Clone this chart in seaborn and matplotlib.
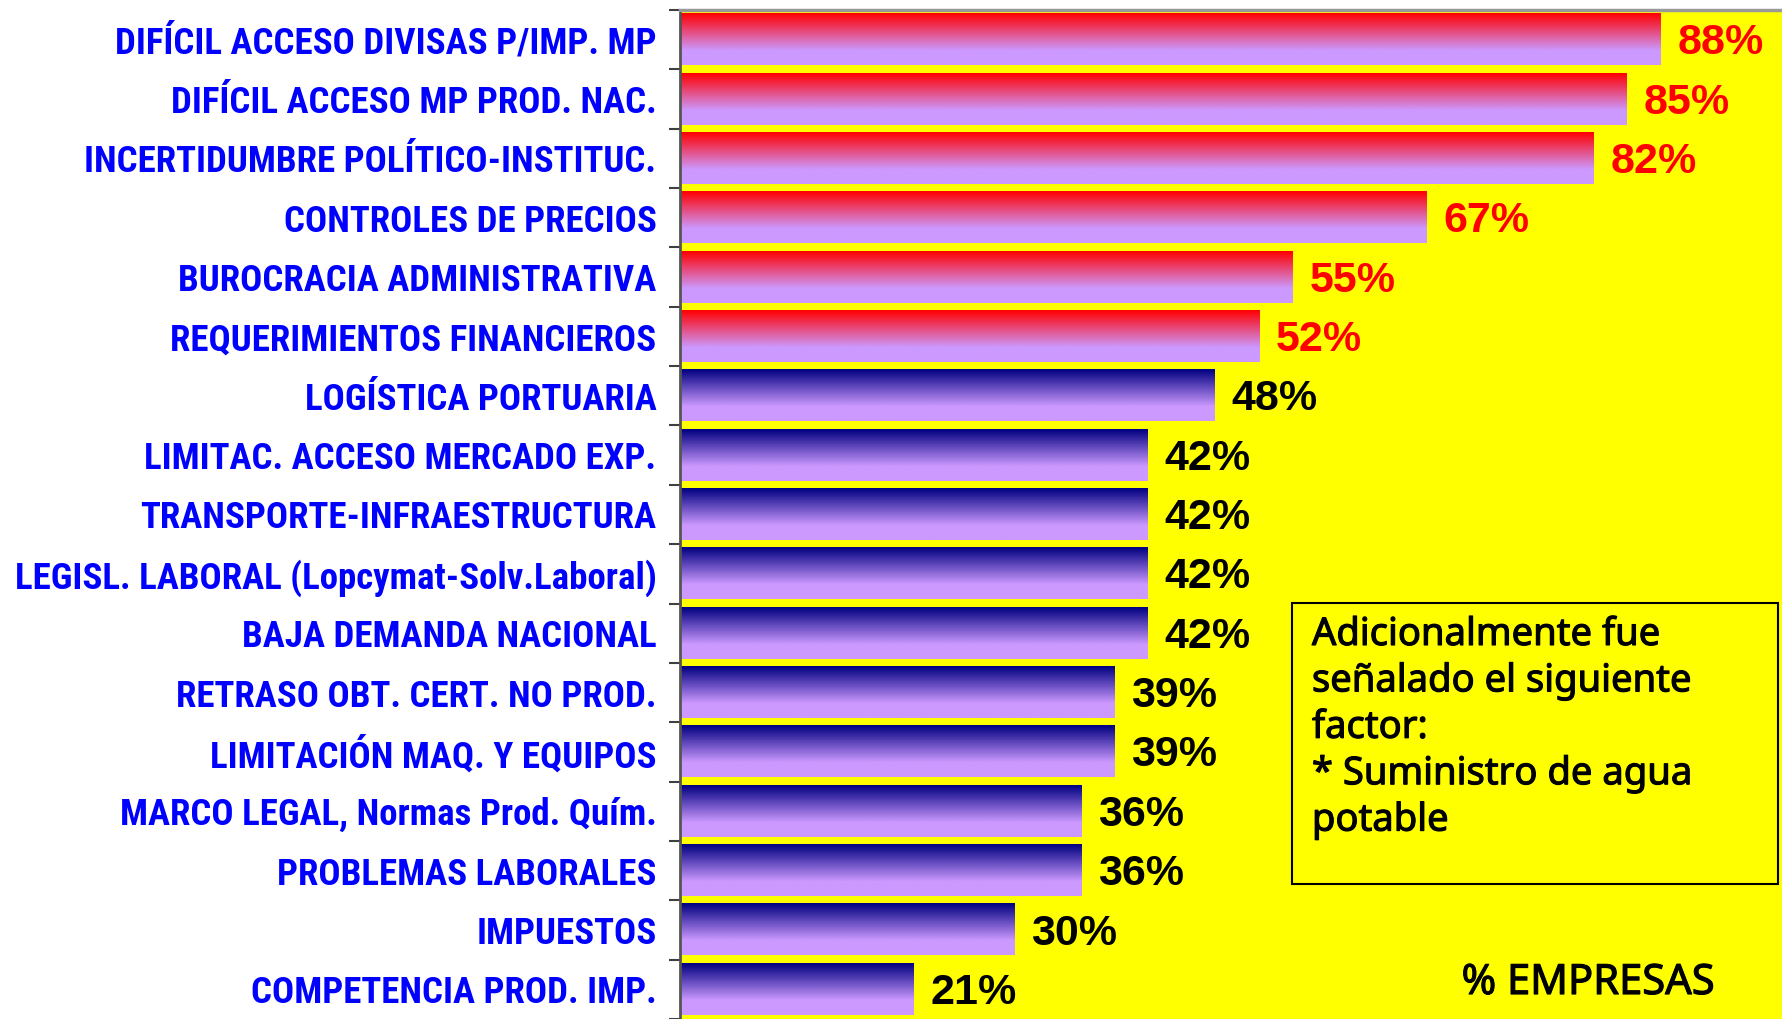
import numpy as np
import pandas as pd
import matplotlib.pyplot as plt
import matplotlib.patheffects as pe
import seaborn as sns
from matplotlib.colors import to_rgb
from matplotlib.patches import Rectangle

factores = [
    "DIFÍCIL ACCESO DIVISAS P/IMP. MP",
    "DIFÍCIL ACCESO MP PROD. NAC.",
    "INCERTIDUMBRE POLÍTICO-INSTITUC.",
    "CONTROLES DE PRECIOS",
    "BUROCRACIA ADMINISTRATIVA",
    "REQUERIMIENTOS FINANCIEROS",
    "LOGÍSTICA PORTUARIA",
    "LIMITAC. ACCESO MERCADO EXP.",
    "TRANSPORTE-INFRAESTRUCTURA",
    "LEGISL. LABORAL (Lopcymat-Solv.Laboral)",
    "BAJA DEMANDA NACIONAL",
    "RETRASO OBT. CERT. NO PROD.",
    "LIMITACIÓN MAQ. Y EQUIPOS",
    "MARCO LEGAL, Normas Prod. Quím.",
    "PROBLEMAS LABORALES",
    "IMPUESTOS",
    "COMPETENCIA PROD. IMP.",
]
porcentajes = [88, 85, 82, 67, 55, 52, 48, 42, 42, 42, 42, 39, 39, 36, 36, 30, 21]
umbral = 50

nota = ("Adicionalmente fue\nseñalado el siguiente\nfactor:\n"
        "* Suministro de agua\npotable")

sns.set_style("white")
plt.rcParams['font.family'] = ['Liberation Sans', 'DejaVu Sans']

df = pd.DataFrame({'factor': factores, 'pct': porcentajes})

fig = plt.figure(figsize=(17.83, 10.19), dpi=100)
ax = fig.add_axes([0.3814, 0.0, 0.6186, 0.9902])
ax.set_facecolor('#FFFF00')
sns.barplot(data=df, x='pct', y='factor', orient='h', width=0.86,
            color='white', errorbar=None, ax=ax)

# degradado vertical en cada barra
lav = np.array(to_rgb('#CC99FF'))
t = np.clip(np.linspace(0, 1, 120) / 0.72, 0, 1)[:, None]
for p, v in zip(ax.patches, porcentajes):
    arriba = np.array(to_rgb('#FF0000' if v > umbral else '#000080'))
    grad = (arriba + (lav - arriba) * t)[:, None, :]
    x0, y0 = p.get_x(), p.get_y()
    w, h = p.get_width(), p.get_height()
    ax.imshow(grad, extent=(x0, x0 + w, y0 + h, y0), aspect='auto',
              interpolation='bilinear', zorder=2)
    p.set_facecolor('none')
    p.set_edgecolor('none')

for i, v in enumerate(porcentajes):
    ax.text(v + 1.5, i + 0.06, f"{v}%", va='center', ha='left', fontsize=31,
            fontweight='bold', family='Liberation Sans',
            color='#FF0000' if v > umbral else 'black', zorder=3)

ax.set_xlim(0, 99)
ax.set_ylim(16.5, -0.5)
ax.set_xticks([])
ax.set_xlabel('')
ax.set_ylabel('')
ax.set_yticks(range(len(factores)))
ax.set_yticklabels(factores, fontweight='bold', family='Roboto Condensed')
ax.set_yticks(np.arange(-0.5, len(factores), 1), minor=True)
ax.tick_params(axis='y', which='major', length=0, pad=17, labelsize=26.6,
               labelcolor='#0000FF')
ax.tick_params(axis='y', which='minor', length=8, width=1.5,
               color='#404040', direction='out', left=True)
for s in ['right', 'bottom']:
    ax.spines[s].set_visible(False)
ax.spines['left'].set_color('#555555')
ax.spines['left'].set_linewidth(2)
ax.spines['top'].set_color('#999999')
ax.spines['top'].set_linewidth(2.5)

# recuadro con nota
grueso = [pe.withStroke(linewidth=0.8, foreground='black')]
fig.patches.append(Rectangle((0.7246, 0.1325), 0.2726, 0.2758,
                             transform=fig.transFigure, facecolor='none',
                             edgecolor='black', linewidth=1.5, zorder=5))
fig.text(0.7358, 0.3955, nota, ha='left', va='top', fontsize=27.5,
         family='Noto Sans', linespacing=1.29, color='black', path_effects=grueso)
fig.text(0.8906, 0.0353, "% EMPRESAS", ha='center', va='center',
         fontsize=30, family='Noto Sans', color='black', path_effects=grueso)

fig.savefig('out.png', dpi=100)
